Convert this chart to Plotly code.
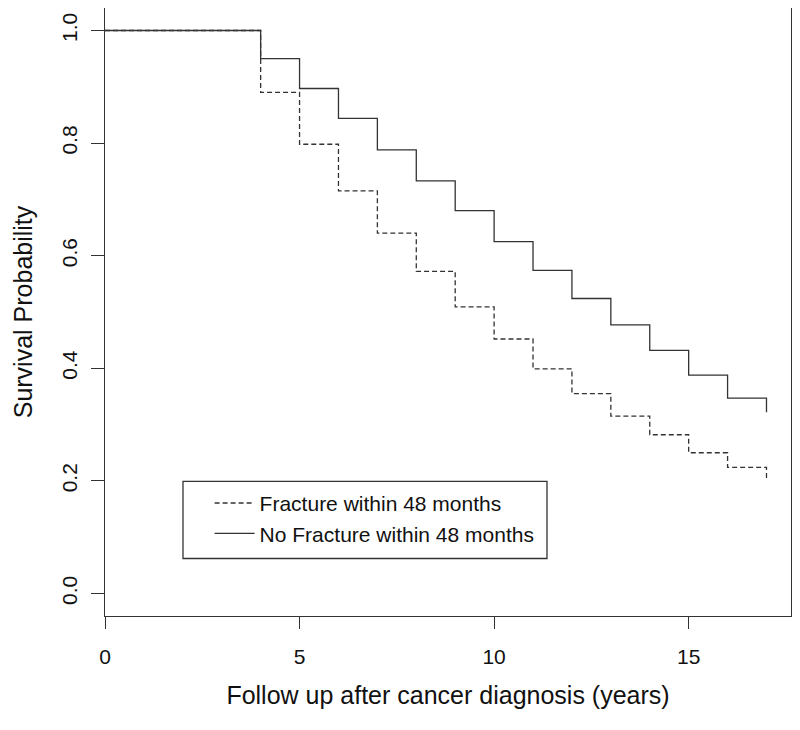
import plotly.graph_objects as go

# Kaplan-Meier style survival estimates
years = [0, 4, 5, 6, 7, 8, 9, 10, 11, 12, 13, 14, 15, 16, 17]
fracture = [1.0, 0.890, 0.798, 0.715, 0.640, 0.572, 0.509, 0.452,
            0.399, 0.355, 0.315, 0.282, 0.250, 0.224, 0.204]
no_fracture = [1.0, 0.950, 0.897, 0.844, 0.788, 0.733, 0.680, 0.625,
               0.574, 0.524, 0.477, 0.432, 0.388, 0.347, 0.322]

x_ticks = [0, 5, 10, 15]
y_ticks = [0.0, 0.2, 0.4, 0.6, 0.8, 1.0]

font = "Liberation Sans, Arial, sans-serif"
ink = "#333333"

fig = go.Figure()
fig.add_trace(go.Scatter(x=years, y=fracture, mode="lines", line_shape="hv",
                         name="Fracture within 48 months",
                         line=dict(color=ink, width=1.3, dash="5px,3px")))
fig.add_trace(go.Scatter(x=years, y=no_fracture, mode="lines", line_shape="hv",
                         name="No Fracture within 48 months",
                         line=dict(color=ink, width=1.3)))

# legend frame like R's legend()
fig.add_shape(type="rect", xref="paper", yref="paper",
              x0=0.1137, x1=0.6443, y0=0.0946, y1=0.2215,
              line=dict(color=ink, width=1.3), fillcolor="rgba(0,0,0,0)")

# page body adds an 8px offset, so margins are shifted to compensate
fig.update_layout(
    width=800, height=730,
    margin=dict(l=97, r=17, t=0, b=122),
    paper_bgcolor="white", plot_bgcolor="white",
    font=dict(family=font, size=21, color="#111111"),
    showlegend=True,
    legend=dict(x=0.1525, y=0.219, xanchor="left", yanchor="top",
                bgcolor="rgba(0,0,0,0)", borderwidth=0,
                font=dict(size=21), itemwidth=40),
    xaxis=dict(range=[0, 17.63], tickvals=x_ticks, ticks="outside",
               ticklen=12, tickcolor=ink, showgrid=False, zeroline=False,
               showline=True, linecolor=ink, linewidth=1.3, mirror=True,
               ticklabelstandoff=10, automargin=False,
               title=dict(text="Follow up after cancer diagnosis (years)",
                          standoff=19)),
    yaxis=dict(range=[-0.04, 1.04], tickvals=y_ticks, tickformat=".1f",
               ticks="outside", ticklen=13, tickcolor=ink, tickangle=-90,
               showgrid=False, zeroline=False, showline=True,
               linecolor=ink, linewidth=1.3, mirror=True, automargin=False,
               ticklabelstandoff=5,
               title=dict(text="Survival Probability", standoff=18)),
)

fig.write_html("out.html")
